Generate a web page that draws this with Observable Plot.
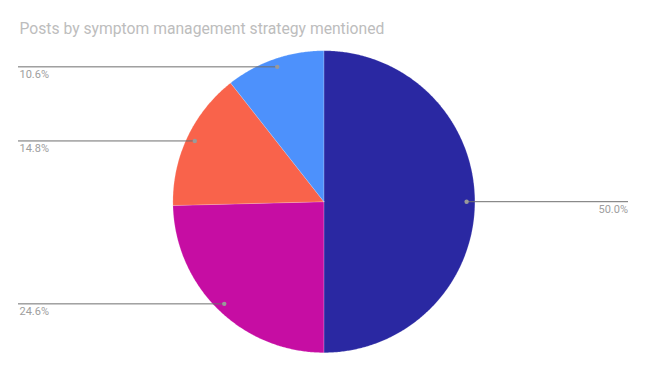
<!DOCTYPE html>
<html><head><meta charset="utf-8">
<script src="https://cdn.jsdelivr.net/npm/d3@7"></script>
<script src="https://cdn.jsdelivr.net/npm/@observablehq/plot@0.6"></script>
<style>html,body{margin:0;padding:0;background:#fff}svg{display:block}</style>
</head><body><div id="chart"></div>
<script>
const title = "Posts by symptom management strategy mentioned";
const categories = ["Strategy A", "Strategy B", "Strategy C", "Strategy D"];
const values = [50.0, 24.6, 14.8, 10.6];
const valueLabels = ["50.0%", "24.6%", "14.8%", "10.6%"];
const colors = ["#2a28a2", "#c60da3", "#f9634b", "#4d91fc"];

const W = 647, H = 371;
const cx = 323.4, cy = 201.2, R = 151;

const arcs = d3.pie().sort(null).value(d => d)(values);

// polygon points for each slice
const slicePts = [];
arcs.forEach((a, i) => {
  const cat = categories[i];
  slicePts.push({x: cx, y: cy, cat});
  const n = Math.max(2, Math.ceil((a.endAngle - a.startAngle) / (Math.PI / 360)));
  for (let k = 0; k <= n; k++) {
    const t = a.startAngle + (a.endAngle - a.startAngle) * k / n;
    slicePts.push({x: cx + R * Math.sin(t), y: cy - R * Math.cos(t), cat});
  }
  slicePts.push({x: cx, y: cy, cat});
});

// leader lines and labels
const labelRows = arcs.map((a, i) => {
  const m = (a.startAngle + a.endAngle) / 2;
  const dx = cx + 0.945 * R * Math.sin(m);
  const dy = cy - 0.945 * R * Math.cos(m);
  const right = Math.sin(m) > 0;
  return {
    dx, dy, right,
    x1: right ? dx : 18, x2: right ? 628 : dx,
    tx: right ? 627.5 : 19, ty: dy + 7.6,
    label: valueLabels[i]
  };
});

const chart = Plot.plot({
  width: W, height: H,
  margin: 0,
  x: {domain: [0, W], range: [0, W], axis: null},
  y: {domain: [0, H], range: [0, H], axis: null},
  color: {domain: categories, range: colors},
  style: {fontFamily: "Roboto, sans-serif", background: "#fff"},
  marks: [
    Plot.line(slicePts, {x: "x", y: "y", z: "cat", fill: "cat", stroke: "#ffffff", strokeWidth: 0.3, strokeOpacity: 0.6, curve: "linear"}),
    Plot.ruleY(labelRows, {y: "dy", x1: "x1", x2: "x2", stroke: "#6f6f6f", strokeWidth: 1}),
    Plot.dot(labelRows, {x: "dx", y: "dy", r: 2.2, fill: "#9a9a9a", stroke: null}),
    Plot.text(labelRows.filter(d => !d.right), {x: "tx", y: "ty", text: "label", textAnchor: "start", fill: "#9e9e9e", fontSize: 11}),
    Plot.text(labelRows.filter(d => d.right), {x: "tx", y: "ty", text: "label", textAnchor: "end", fill: "#9e9e9e", fontSize: 11}),
    Plot.text([title], {x: () => 19, y: () => 28.5, text: d => d, textAnchor: "start", fill: "#bdbdbd", fontSize: 15.7})
  ]
});
document.getElementById("chart").appendChild(chart);
</script>
</body></html>
